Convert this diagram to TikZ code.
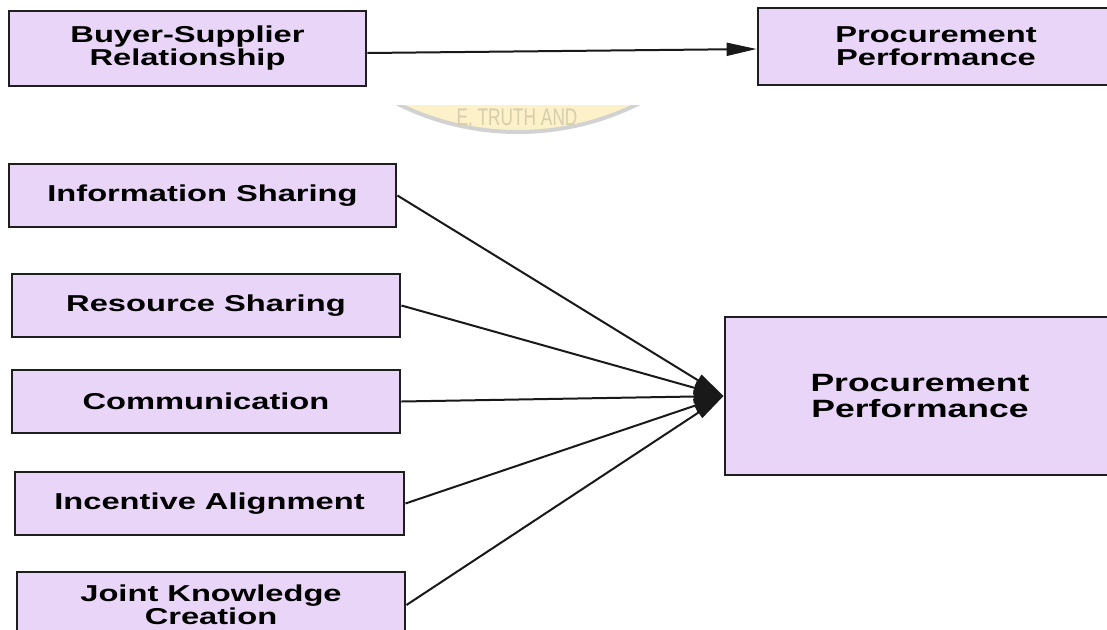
\documentclass[tikz,border=0pt]{standalone}
\usepackage{fontspec}
\usetikzlibrary{arrows.meta}
\newfontfamily\boxfont{Liberation Sans}[FakeStretch=1.42]
\newfontfamily\wmfont{Liberation Sans}[FakeStretch=0.72]
\definecolor{boxfill}{HTML}{E9D5F7}
\definecolor{boxline}{HTML}{1E1E1E}
\definecolor{wmyellow}{HTML}{FCF1C8}
\definecolor{wmrim}{HTML}{D2D2D2}
\definecolor{wmtext}{HTML}{D6CDAC}
\tikzset{
  box/.style={draw=boxline, line width=2.9pt, fill=boxfill, inner sep=0pt,
    align=center, font=\boxfont\bfseries\fontsize{23}{23}\selectfont},
  bigbox/.style={box, font=\boxfont\bfseries\fontsize{25}{26}\selectfont},
  arr/.style={line width=2pt, draw=black!90,
    -{Triangle[length=30pt,width=13pt]}},
  seal/.style={text=wmtext, inner sep=0pt, anchor=base,
    font=\wmfont\fontsize{24}{24}\selectfont}
}
\begin{document}
\begin{tikzpicture}[x=1pt,y=1pt]
\useasboundingbox (0,0) rectangle (1107,-629);
\clip (0,0) rectangle (1107,-629);

% faded seal fragment in the background
\begin{scope}
  \clip (380,-105) rectangle (660,-150);
  \fill[wmyellow] (518,138) circle[radius=270];
  \draw[wmrim, line width=4pt] (518,138) circle[radius=270];
  \node[seal] (seal) at (517,-125) {E, TRUTH AND};
\end{scope}

% top row
\node[box, minimum width=357pt, minimum height=75pt] (bsr) at (187.5,-48.5)
  {Buyer-Supplier\\Relationship};
\node[box, minimum width=356pt, minimum height=77pt] (pp1) at (936,-46.5)
  {Procurement\\Performance};
\draw[arr] ([yshift=-4.5pt]bsr.east) -- ([yshift=-2.5pt]pp1.west);

% dimensions
\node[box, minimum width=387pt, minimum height=63pt] (info) at (202.5,-195.5)
  {Information Sharing};
\node[box, minimum width=388pt, minimum height=63pt] (res) at (206,-305.5)
  {Resource Sharing};
\node[box, minimum width=388pt, minimum height=63pt] (comm) at (206,-401.5)
  {Communication};
\node[box, minimum width=389pt, minimum height=63pt] (inc) at (209.5,-503.5)
  {Incentive Alignment};
\node[box, minimum width=388pt, minimum height=66pt] (jkc) at (211,-605)
  {Joint Knowledge\\Creation};

% outcome
\node[bigbox, minimum width=390pt, minimum height=158pt] (pp2) at (920,-396)
  {Procurement\\Performance};

\foreach \src in {info,res,comm,inc,jkc}
  \draw[arr] (\src.east) -- (pp2.west);
\end{tikzpicture}
\end{document}
